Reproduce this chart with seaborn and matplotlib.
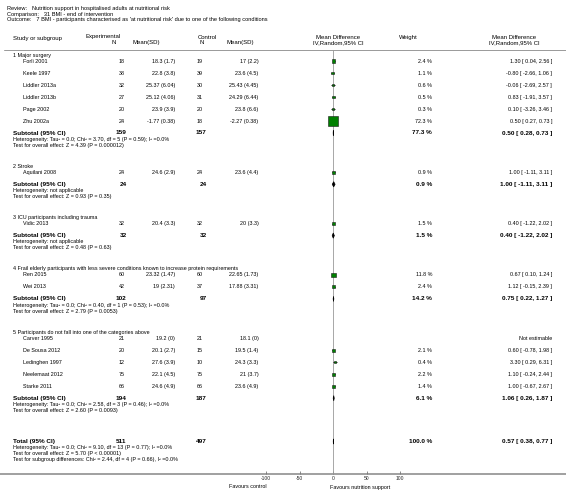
import matplotlib
matplotlib.use("Agg")
import matplotlib.pyplot as plt
from matplotlib.patches import Polygon
import numpy as np
import pandas as pd
import seaborn as sns

sns.set_style("white")
plt.rcParams['font.family'] = ['Liberation Sans', 'DejaVu Sans']
plt.rcParams['axes.unicode_minus'] = False

# ---- data ----
groups = [
    "1 Major surgery",
    "2 Stroke",
    "3 ICU participants including trauma",
    "4 Frail elderly participants with less severe conditions known to increase protein requirements",
    "5 Participants do not fall into one of the categories above",
]
study = ["Forli 2001", "Keele 1997", "Liddler 2013a", "Liddler 2013b", "Page 2002", "Zhu 2002a",
         "Aquilani 2008", "Vidic 2013", "Ren 2015", "Wei 2013",
         "Carver 1995", "De Sousa 2012", "Ledinghen 1997", "Neelemaat 2012", "Starke 2011"]
study_group = [0, 0, 0, 0, 0, 0, 1, 2, 3, 3, 4, 4, 4, 4, 4]
exp_n = [18, 38, 32, 27, 20, 24, 24, 32, 60, 42, 21, 20, 12, 75, 66]
exp_mean = [18.3, 22.8, 25.37, 25.12, 23.9, -1.77, 24.6, 20.4, 23.32, 19, 19.2, 20.1, 27.6, 22.1, 24.6]
exp_sd = [1.7, 3.8, 6.04, 4.06, 3.9, 0.38, 2.9, 3.3, 1.47, 2.31, 0, 2.7, 3.9, 4.5, 4.9]
ctl_n = [19, 39, 30, 31, 20, 18, 24, 32, 60, 37, 21, 15, 10, 75, 66]
ctl_mean = [17, 23.6, 25.43, 24.29, 23.8, -2.27, 23.6, 20, 22.65, 17.88, 18.1, 19.5, 24.3, 21, 23.6]
ctl_sd = [2.2, 4.5, 4.45, 6.44, 6.6, 0.38, 4.4, 3.3, 1.73, 3.31, 0, 1.4, 3.3, 3.7, 4.9]
weight = [2.4, 1.1, 0.6, 0.5, 0.3, 72.3, 0.9, 1.5, 11.8, 2.4, np.nan, 2.1, 0.4, 2.2, 1.4]
md = [1.30, -0.80, -0.06, 0.83, 0.10, 0.50, 1.00, 0.40, 0.67, 1.12, np.nan, 0.60, 3.30, 1.10, 1.00]
md_lo = [0.04, -2.66, -2.69, -1.91, -3.26, 0.27, -1.11, -1.22, 0.10, -0.15, np.nan, -0.78, 0.29, -0.24, -0.67]
md_hi = [2.56, 1.06, 2.57, 3.57, 3.46, 0.73, 3.11, 2.02, 1.24, 2.39, np.nan, 1.98, 6.31, 2.44, 2.67]

sub_exp_n = [159, 24, 32, 102, 194]
sub_ctl_n = [157, 24, 32, 97, 187]
sub_weight = [77.3, 0.9, 1.5, 14.2, 6.1]
sub_md = [0.50, 1.00, 0.40, 0.75, 1.06]
sub_lo = [0.28, -1.11, -1.22, 0.22, 0.26]
sub_hi = [0.73, 3.11, 2.02, 1.27, 1.87]
sub_het = [
    "Heterogeneity: Tau² = 0.0; Chi² = 3.70, df = 5 (P = 0.59); I² =0.0%",
    "Heterogeneity: not applicable",
    "Heterogeneity: not applicable",
    "Heterogeneity: Tau² = 0.0; Chi² = 0.40, df = 1 (P = 0.53); I² =0.0%",
    "Heterogeneity: Tau² = 0.0; Chi² = 2.58, df = 3 (P = 0.46); I² =0.0%",
]
sub_test = [
    "Test for overall effect: Z = 4.39 (P = 0.000012)",
    "Test for overall effect: Z = 0.93 (P = 0.35)",
    "Test for overall effect: Z = 0.48 (P = 0.63)",
    "Test for overall effect: Z = 2.79 (P = 0.0053)",
    "Test for overall effect: Z = 2.60 (P = 0.0093)",
]
total_n = [511, 497]
total_weight = 100.0
total_md = [0.57, 0.38, 0.77]
total_notes = [
    "Heterogeneity: Tau² = 0.0; Chi² = 9.10, df = 13 (P = 0.77); I² =0.0%",
    "Test for overall effect: Z = 5.70 (P < 0.00001)",
    "Test for subgroup differences: Chi² = 2.44, df = 4 (P = 0.66), I² =0.0%",
]
ticks = [-100, -50, 0, 50, 100]
tick_labels = ["-100", "-50", "0", "50", "100"]

# ---- layout (pixels) ----
W, H = 566, 499
fig = plt.figure(figsize=(W / 100, H / 100), dpi=100)
ax = fig.add_axes([0, 0, 1, 1])
ax.set_xlim(0, W)
ax.set_ylim(H, 0)
ax.axis("off")

fs_small = 3.9
fs_head = 4.3
fs_bold = 4.6
grey = "#999999"

def txt(x, y, s, ha="left", size=fs_small, weight="normal"):
    ax.text(x, y, s, ha=ha, va="center", fontsize=size, fontweight=weight, color="black")

def fmt_ci(m, lo, hi):
    return f"{m:.2f} [ {lo:.2f}, {hi:.2f} ]"

# title block
txt(7, 8.5, "Review:   Nutrition support in hospitalised adults at nutritional risk", size=4.1)
txt(7, 14, "Comparison:   31 BMI - end of intervention", size=4.1)
txt(7, 19.5, "Outcome:   7 BMI - participants characterised as 'at nutritional risk' due to one of the following conditions", size=4.1)

# header
txt(13, 38.5, "Study or subgroup", size=fs_head)
txt(103, 36, "Experimental", ha="center", size=fs_head)
txt(114, 42, "N", ha="center", size=fs_head)
txt(146, 42, "Mean(SD)", ha="center", size=fs_head)
txt(207, 37, "Control", ha="center", size=fs_head)
txt(202, 42, "N", ha="center", size=fs_head)
txt(240, 42, "Mean(SD)", ha="center", size=fs_head)
txt(338, 37, "Mean Difference", ha="center", size=fs_head)
txt(338, 42.5, "IV,Random,95% CI", ha="center", size=fs_head)
txt(408, 37.5, "Weight", ha="center", size=fs_head)
txt(514, 37, "Mean Difference", ha="center", size=fs_head)
txt(514, 42.5, "IV,Random,95% CI", ha="center", size=fs_head)
ax.plot([4, W], [49.5, 49.5], color=grey, lw=0.7)

x_name, x_sub = 23, 13
x_en, x_em, x_cn, x_cm = 124.5, 175, 203, 258.5
x_w, x_ci = 432, 552

study_y = [np.nan] * len(study)
sub_y = []
y = 55
for g, gname in enumerate(groups):
    txt(x_sub, y, gname)
    y += 6
    for i in [k for k, sg in enumerate(study_group) if sg == g]:
        study_y[i] = y
        txt(x_name, y, study[i])
        txt(x_en, y, str(exp_n[i]), ha="right")
        txt(x_em, y, f"{exp_mean[i]:g} ({exp_sd[i]:g})", ha="right")
        txt(x_cn, y, str(ctl_n[i]), ha="right")
        txt(x_cm, y, f"{ctl_mean[i]:g} ({ctl_sd[i]:g})", ha="right")
        if np.isnan(weight[i]):
            txt(x_ci, y, "Not estimable", ha="right")
        else:
            txt(x_w, y, f"{weight[i]:.1f} %", ha="right")
            txt(x_ci, y, fmt_ci(md[i], md_lo[i], md_hi[i]), ha="right")
        y += 12
    sub_y.append(y)
    txt(x_sub, y, "Subtotal (95% CI)", size=fs_bold, weight="bold")
    txt(x_en + 2, y, str(sub_exp_n[g]), ha="right", size=fs_bold, weight="bold")
    txt(x_cn + 3.5, y, str(sub_ctl_n[g]), ha="right", size=fs_bold, weight="bold")
    txt(x_w, y, f"{sub_weight[g]:.1f} %", ha="right", size=fs_bold, weight="bold")
    txt(x_ci, y, fmt_ci(sub_md[g], sub_lo[g], sub_hi[g]), ha="right", size=fs_bold, weight="bold")
    txt(x_sub, y + 6.3, sub_het[g])
    txt(x_sub, y + 12.3, sub_test[g])
    y += 12.3 + 21

y_total = y - 21 + 31
txt(x_sub, y_total, "Total (95% CI)", size=fs_bold, weight="bold")
txt(x_en + 2, y_total, str(total_n[0]), ha="right", size=fs_bold, weight="bold")
txt(x_cn + 3.5, y_total, str(total_n[1]), ha="right", size=fs_bold, weight="bold")
txt(x_w, y_total, f"{total_weight:.1f} %", ha="right", size=fs_bold, weight="bold")
txt(x_ci, y_total, fmt_ci(*total_md), ha="right", size=fs_bold, weight="bold")
for k, note in enumerate(total_notes):
    txt(x_sub, y_total + 6.3 + 5.6 * k, note)

# ---- forest panel ----
fx0, fx1 = 266, 400
top, bot = 50, 474
ax.plot([0, W], [bot, bot], color=grey, lw=1.3, zorder=1)
fa = fig.add_axes([fx0 / W, (H - bot) / H, (fx1 - fx0) / W, (bot - top) / H])
fa.patch.set_alpha(0)

df = pd.DataFrame({"md": md, "lo": md_lo, "hi": md_hi, "weight": weight, "y": study_y}).dropna()
fa.hlines(df["y"], df["lo"], df["hi"], color="black", lw=0.6, zorder=2)
sns.scatterplot(data=df, x="md", y="y", size="weight", sizes=(3, 55), size_norm=(0, 72.3),
                marker="s", color="#008000", edgecolor="#1a1a1a", linewidth=0.4,
                legend=False, zorder=3, ax=fa)

dh = 2.6
diamonds = [(sub_md[g], sub_lo[g], sub_hi[g], sub_y[g]) for g in range(len(groups))]
diamonds.append((total_md[0], total_md[1], total_md[2], y_total))
for m, lo, hi, yy in diamonds:
    fa.add_patch(Polygon([(lo, yy), (m, yy - dh), (hi, yy), (m, yy + dh)],
                         closed=True, facecolor="black", edgecolor="black", lw=0.5, zorder=3))

fa.axvline(0, color=grey, lw=0.6, zorder=1)
fa.set_xlim(-100, 100)
fa.set_ylim(bot, top)
fa.set_xlabel("")
fa.set_ylabel("")
fa.set_yticks([])
fa.set_xticks(ticks)
fa.set_xticklabels(tick_labels)
fa.tick_params(axis="x", direction="in", length=2.5, width=0.6, color="#777777",
               labelsize=3.6, pad=1.8, bottom=True)
for s in fa.spines.values():
    s.set_visible(False)

txt(267, bot + 13, "Favours control", ha="right")
txt(330, bot + 13, "Favours nutrition support", ha="left")

fig.savefig("out.png", dpi=100)
